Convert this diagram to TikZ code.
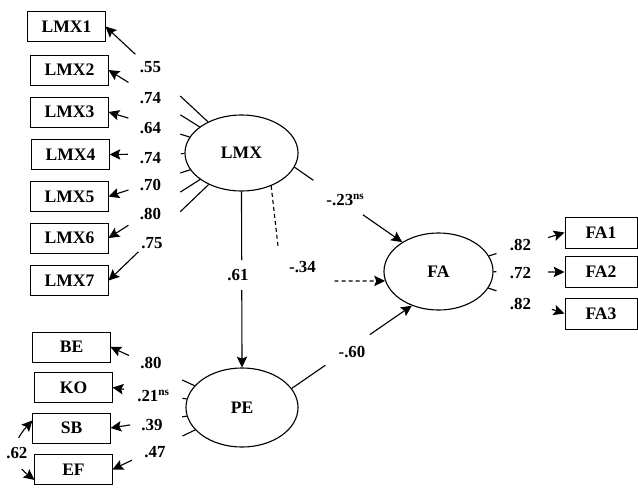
\documentclass[tikz,border=0pt]{standalone}
\usepackage{fontspec}
\setmainfont{Liberation Serif}
\usetikzlibrary{shapes.geometric,arrows.meta,calc}

\begin{document}
\begin{tikzpicture}[x=0.025cm, y=-0.025cm,
  obs/.style={rectangle, draw, line width=0.7pt, minimum width=1.925cm, minimum height=0.75cm, inner sep=0pt, font=\fontsize{12.5}{15}\selectfont\bfseries},
  lat/.style={ellipse, draw, line width=0.8pt, inner sep=0pt, font=\fontsize{12.5}{15}\selectfont\bfseries},
  lbl/.style={inner sep=0pt, font=\fontsize{12}{14}\selectfont\bfseries},
  ln/.style={line width=0.8pt},
  arr/.style={line width=0.8pt, -{Stealth[length=2.7mm, width=2.6mm, inset=0.5mm]}}]

\useasboundingbox (0,0) rectangle (638,487);

\node[obs] (lmx1) at (66.5,26.5) {LMX1};

\node[obs] (lmx2) at (69.5,70) {LMX2};

\node[obs] (lmx3) at (69.5,112) {LMX3};

\node[obs] (lmx4) at (70.5,154.5) {LMX4};

\node[obs] (lmx5) at (69.5,196.5) {LMX5};

\node[obs] (lmx6) at (69.5,238) {LMX6};

\node[obs] (lmx7) at (69.5,280.5) {LMX7};

\node[obs] (be) at (71.5,347) {BE};

\node[obs] (ko) at (73.5,387.5) {KO};

\node[obs] (sb) at (71.5,428) {SB};

\node[obs] (ef) at (73.5,469.5) {EF};

\node[obs, minimum width=1.8cm, minimum height=0.775cm] (fa1) at (601,232.5) {FA1};

\node[obs, minimum width=1.8cm, minimum height=0.775cm] (fa2) at (601,272) {FA2};

\node[obs, minimum width=1.8cm, minimum height=0.775cm] (fa3) at (601,313.5) {FA3};

\node[lat, minimum width=2.825cm, minimum height=1.9cm] (lmx) at (241.5,153) {LMX};

\node[lat, minimum width=2.8cm, minimum height=1.975cm] (pe) at (242,407.5) {PE};

\node[lat, minimum width=2.725cm, minimum height=1.925cm] (fa) at (438.5,271.5) {FA};

\node[lbl] (w1) at (150.5,67.5) {.55};
\node[lbl] (w2) at (150.5,98) {.74};
\node[lbl] (w3) at (150.5,128.5) {.64};
\node[lbl] (w4) at (150.5,158.5) {.74};
\node[lbl] (w5) at (150.5,185.5) {.70};
\node[lbl] (w6) at (150.5,214) {.80};
\node[lbl] (w7) at (152,243) {.75};

\node[lbl] (wbe) at (151,363.5) {.80};
\node[lbl] (wko) at (153.5,396) {.21\textsuperscript{ns}};
\node[lbl] (wsb) at (152,425) {.39};
\node[lbl] (wef) at (155,452.5) {.47};

\node[lbl] (wfa1) at (520.5,245) {.82};
\node[lbl] (wfa2) at (520.5,273.5) {.72};
\node[lbl] (wfa3) at (520.5,304.5) {.82};

\node[lbl] (bpe) at (238,275) {.61};
\node[lbl] (bfa) at (345.5,200) {-.23\textsuperscript{ns}};
\node[lbl] (bind) at (302.5,267.5) {-.34};
\node[lbl] (bpefa) at (352,352.5) {-.60};

\coordinate (elbow) at (282,281);

\draw[ln] (lmx) -- ($(lmx)!.45!(lmx1.east)$);
\draw[arr] ($(lmx)!.78!(lmx1.east)$) -- (lmx1.east);

\draw[ln] (lmx) -- ($(lmx)!.46!(lmx2.east)$);
\draw[arr] ($(lmx)!.85!(lmx2.east)$) -- (lmx2.east);

\draw[ln] (lmx) -- ($(lmx)!.46!(lmx3.east)$);
\draw[arr] ($(lmx)!.85!(lmx3.east)$) -- (lmx3.east);

\draw[ln] (lmx) -- ($(lmx)!.46!(lmx4.east)$);
\draw[arr] ($(lmx)!.86!(lmx4.east)$) -- (lmx4.east);

\draw[ln] (lmx) -- ($(lmx)!.46!(lmx5.east)$);
\draw[arr] ($(lmx)!.85!(lmx5.east)$) -- (lmx5.east);

\draw[ln] (lmx) -- ($(lmx)!.46!(lmx6.east)$);
\draw[arr] ($(lmx)!.85!(lmx6.east)$) -- (lmx6.east);

\draw[ln] (lmx) -- ($(lmx)!.46!(lmx7.east)$);
\draw[arr] ($(lmx)!.775!(lmx7.east)$) -- (lmx7.east);

\draw[ln] (pe) -- ($(pe)!.455!(be.east)$);
\draw[arr] ($(pe)!.86!(be.east)$) -- (be.east);

\draw[ln] (pe) -- ($(pe)!.46!(ko.east)$);
\draw[arr] ($(pe)!.91!(ko.east)$) -- (ko.east);

\draw[ln] (pe) -- ($(pe)!.455!(sb.east)$);
\draw[arr] ($(pe)!.85!(sb.east)$) -- (sb.east);

\draw[ln] (pe) -- ($(pe)!.46!(ef.east)$);
\draw[arr] ($(pe)!.85!(ef.east)$) -- (ef.east);

\draw[ln] (fa) -- ($(fa)!.46!(fa1.west)$);
\draw[arr] ($(fa)!.87!(fa1.west)$) -- (fa1.west);

\draw[ln] (fa) -- ($(fa)!.46!(fa2.west)$);
\draw[arr] ($(fa)!.87!(fa2.west)$) -- (fa2.west);

\draw[ln] (fa) -- ($(fa)!.46!(fa3.west)$);
\draw[arr] ($(fa)!.90!(fa3.west)$) -- (fa3.west);

\draw[ln] (lmx.south) -- ($(lmx.south)!.39!(pe.north)$);
\draw[arr] ($(lmx.south)!.56!(pe.north)$) -- (pe.north);

\draw[ln] (lmx.-15) -- ($(lmx.-15)!.175!(fa.141)$);
\draw[arr] ($(lmx.-15)!.635!(fa.141)$) -- (fa.141);

\draw[ln] (pe.21) -- ($(pe.21)!.28!(fa.232)$);
\draw[arr] ($(pe.21)!.65!(fa.232)$) -- (fa.232);

\draw[ln, dash pattern=on 2.8pt off 2.2pt] (lmx.-48) -- ($(lmx.-48)!.65!(elbow)$);
\draw[arr, dash pattern=on 2.8pt off 2.2pt] ($(elbow)!.51!(fa.190)$) -- (fa.190);

\draw[ln, {Stealth[length=2.7mm, width=2.6mm, inset=0.5mm]}-{Stealth[length=2.7mm, width=2.6mm, inset=0.5mm]}] (sb.169) to[out=227, in=142, looseness=1.3] node[lbl, pos=.53, fill=white, inner xsep=1pt, inner ysep=0.25cm] (cov) {.62} (ef.195);

\end{tikzpicture}
\end{document}
